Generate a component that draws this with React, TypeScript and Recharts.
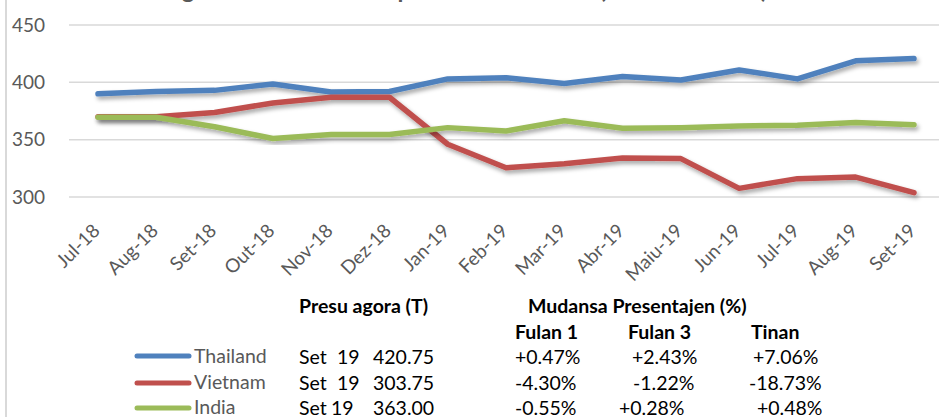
import React from 'react';
import { LineChart, Line, XAxis, YAxis, CartesianGrid } from 'recharts';

// ---------- data ----------
const months = ['Jul-18', 'Aug-18', 'Set-18', 'Out-18', 'Nov-18', 'Dez-18', 'Jan-19', 'Feb-19', 'Mar-19', 'Abr-19', 'Maiu-19', 'Jun-19', 'Jul-19', 'Aug-19', 'Set-19'];
const thailand = [390, 392, 393, 398.5, 391.5, 392, 403, 404, 399, 405, 402, 410.8, 403, 418.8, 420.75];
const vietnam = [370, 370, 373.75, 382, 387, 387, 346, 325.5, 329, 334, 333.5, 307.5, 316, 317.4, 303.75];
const india = [369.5, 369.5, 361.3, 351, 354.5, 354.5, 360.5, 357.5, 366.5, 360, 360.5, 362, 362.5, 365, 363];
const yTicks = [300, 350, 400, 450];

const seriesNames = ['Thailand', 'Vietnam', 'India'];
const latestMonth = ['Set', 'Set', 'Set'];
const latestYear = ['19', '19', '19'];
const latestPrice = [420.75, 303.75, 363.0];
const change1m = [0.47, -4.3, -0.55];
const change3m = [2.43, -1.22, 0.28];
const change1y = [7.06, -18.73, 0.48];

const titleText = 'Regionál Presu Fos Eksportasaun iha Ázia (USD/Tonelada)';
const priceHeader = 'Presu agora (T)';
const changeHeader = 'Mudansa Presentajen (%)';
const periodHeaders = ['Fulan 1', 'Fulan 3', 'Tinan'];

// ---------- styles ----------
const colors = ['#4f81bd', '#c0504d', '#9bbb59'];
const FONT = 'Lato, "Open Sans", sans-serif';
const GRAY = '#595959';

const data = months.map((m, i) => ({
  month: m,
  Thailand: thailand[i],
  Vietnam: vietnam[i],
  India: india[i],
}));

const fmtPct = (v: number) => (v > 0 ? '+' : '') + v.toFixed(2) + '%';

const XTick = (props: any) => {
  const { x, y, payload } = props;
  const ax = x + 3;
  const ay = y + 35;
  return (
    <text
      x={ax}
      y={ay}
      textAnchor="end"
      fill={GRAY}
      fontSize={19}
      fontFamily={FONT}
      transform={`rotate(-45 ${ax} ${ay})`}
    >
      {payload.value}
    </text>
  );
};

// table layout
const rowBaselines = [364, 390, 415];
const lineYs = [356, 383, 408];
const yearX = [337, 337, 331];
const col1X = [515, 515, 515];
const col2X = [632, 633, 619];
const col3X = [753, 749, 757];

export default function App() {
  return (
    <div
      style={{
        position: 'absolute',
        left: 0,
        top: 0,
        width: 939,
        height: 417,
        overflow: 'hidden',
        background: '#fff',
        fontFamily: FONT,
      }}
    >
      <style>{`.recharts-line-curve{filter:url(#lineShadow);}`}</style>
      <svg width={0} height={0} style={{ position: 'absolute' }}>
        <defs>
          <filter id="lineShadow" x="-5%" y="-30%" width="110%" height="160%">
            <feDropShadow dx={2} dy={3} stdDeviation={2} floodColor="#000" floodOpacity={0.35} />
          </filter>
        </defs>
      </svg>
      <div style={{ position: 'absolute', left: 5, top: 0, width: 2, height: 417, background: '#d9d9d9' }} />
      <LineChart width={960} height={417} data={data} margin={{ top: 25, right: 17, bottom: 0, left: 0 }}>
        <CartesianGrid vertical={false} stroke="#d9d9d9" strokeWidth={1.5} />
        <XAxis
          dataKey="month"
          interval={0}
          height={220}
          axisLine={false}
          tickLine={false}
          tickSize={0}
          tickMargin={0}
          padding={{ left: 29, right: 29 }}
          tick={<XTick />}
        />
        <YAxis
          domain={[300, 450]}
          ticks={yTicks}
          width={69}
          axisLine={false}
          tickLine={false}
          tickSize={0}
          tickMargin={24}
          tick={{ fill: GRAY, fontSize: 19, fontFamily: FONT }}
        />
        {seriesNames.map((name, i) => (
          <Line
            key={name}
            dataKey={name}
            type="linear"
            stroke={colors[i]}
            strokeWidth={5.5}
            strokeLinecap="round"
            strokeLinejoin="round"
            dot={false}
            activeDot={false}
            isAnimationActive={false}
          />
        ))}
      </LineChart>
      <svg
        width={939}
        height={417}
        style={{ position: 'absolute', left: 0, top: 0, pointerEvents: 'none' }}
        fontFamily={FONT}
      >
        <text x={461} y={-2} textAnchor="middle" fontSize={24} fontWeight={700} fill={GRAY}>
          {titleText}
        </text>
        <text x={299} y={313} fontSize={19.5} fontWeight={700} fill="#000">{priceHeader}</text>
        <text x={528} y={313} fontSize={19.5} fontWeight={700} fill="#000">{changeHeader}</text>
        <text x={515} y={339} fontSize={19.5} fontWeight={700} fill="#000">{periodHeaders[0]}</text>
        <text x={628} y={339} fontSize={19.5} fontWeight={700} fill="#000">{periodHeaders[1]}</text>
        <text x={751} y={339} fontSize={19.5} fontWeight={700} fill="#000">{periodHeaders[2]}</text>
        {seriesNames.map((name, i) => (
          <g key={name}>
            <line x1={137} x2={189} y1={lineYs[i]} y2={lineYs[i]} stroke={colors[i]} strokeWidth={5} strokeLinecap="round" />
            <text x={194} y={rowBaselines[i] - 1} fontSize={19.5} fill={GRAY}>{name}</text>
            <text x={299} y={rowBaselines[i]} fontSize={19.5} fill="#000">{latestMonth[i]}</text>
            <text x={yearX[i]} y={rowBaselines[i]} fontSize={19.5} fill="#000">{latestYear[i]}</text>
            <text x={373} y={rowBaselines[i]} fontSize={19.5} fill="#000">{latestPrice[i].toFixed(2)}</text>
            <text x={col1X[i]} y={rowBaselines[i]} fontSize={19.5} fill="#000">{fmtPct(change1m[i])}</text>
            <text x={col2X[i]} y={rowBaselines[i]} fontSize={19.5} fill="#000">{fmtPct(change3m[i])}</text>
            <text x={col3X[i]} y={rowBaselines[i]} fontSize={19.5} fill="#000">{fmtPct(change1y[i])}</text>
          </g>
        ))}
      </svg>
    </div>
  );
}
